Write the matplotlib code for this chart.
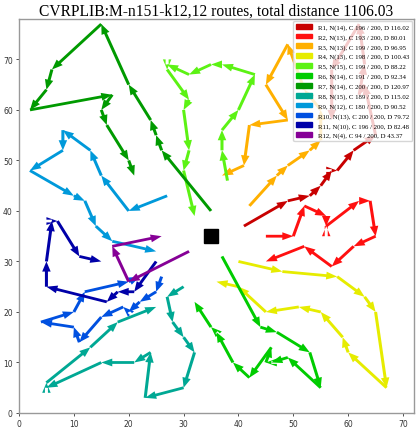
import matplotlib
matplotlib.use("Agg")
import matplotlib.pyplot as plt
from matplotlib.patches import Patch

# route customers, in visiting order (depot legs not drawn)
route1 = [(41, 37), (49, 42), (53, 43), (55, 45), (57, 48), (58, 48), (61, 52),
          (65, 55), (63, 65), (62, 63), (63, 69), (62, 77), (57, 68), (57, 58)]
route2 = [(45, 35), (50, 35), (52, 41), (56, 39), (56, 37), (56, 37), (62, 42),
          (64, 42), (65, 35), (61, 33), (57, 29), (52, 33), (45, 30)]
route3 = [(42, 41), (47, 47), (49, 49), (53, 52), (55, 54), (55, 60), (52, 64),
          (49, 73), (45, 65), (49, 58), (42, 57), (41, 49), (37, 47)]
route4 = [(40, 30), (48, 28), (58, 27), (63, 23), (65, 20), (67, 5), (60, 12),
          (59, 15), (55, 20), (51, 21), (45, 20), (40, 25), (36, 26)]
route5 = [(38, 46), (37, 52), (37, 56), (40, 60), (43, 67), (37, 69), (35, 69),
          (31, 67), (27, 69), (27, 68), (31, 62), (30, 60), (31, 52), (30, 48), (32, 39)]
route6 = [(37, 31), (44, 17), (47, 16), (53, 12), (55, 5), (49, 11), (46, 10),
          (45, 10), (46, 13), (42, 7), (39, 10), (36, 16), (35, 17), (32, 22)]
route7 = [(35, 40), (26, 52), (25, 55), (24, 58), (20, 65), (15, 77), (6, 68),
          (5, 64), (2, 60), (17, 63), (15, 60), (16, 57), (20, 50), (21, 47)]
route8 = [(30, 25), (27, 23), (28, 18), (30, 15), (32, 12), (30, 5), (23, 3),
          (24, 12), (21, 10), (15, 10), (5, 5), (5, 6), (13, 13), (18, 18), (25, 21)]
route9 = [(27, 43), (20, 40), (15, 47), (13, 52), (8, 56), (8, 52), (2, 48),
          (10, 43), (12, 42), (14, 37), (17, 34), (25, 32)]
route10 = [(26, 27), (25, 24), (22, 22), (20, 20), (19, 21), (15, 19), (11, 14),
           (10, 17), (4, 18), (10, 20), (12, 24), (20, 26), (22, 27)]
route11 = [(25, 30), (21, 24), (18, 24), (16, 22), (5, 25), (5, 30), (6, 38),
           (7, 38), (11, 31), (15, 30)]
route12 = [(31, 32), (20, 26), (17, 33), (26, 35)]

depot = (35, 35)
loads = [196, 193, 199, 198, 199, 191, 200, 189, 180, 200, 196, 94]
dists = [116.02, 80.01, 96.95, 100.43, 88.22, 92.34, 120.97, 115.02, 90.52, 79.72, 82.48, 43.37]
capacity = 200
colors = ['#C80000', '#FF1010', '#FFB000', '#E6EC00', '#5CF214', '#00CC00',
          '#009A00', '#00A894', '#0099DA', '#0050E0', '#0000A8', '#860096']

routes = [route1, route2, route3, route4, route5, route6,
          route7, route8, route9, route10, route11, route12]

fig = plt.figure(figsize=(4.2, 4.31), dpi=100)
ax = fig.add_axes([19 / 420, 17 / 431, 395 / 420, 394 / 431])

handles = []
for i, route in enumerate(routes):
    for (x0, y0), (x1, y1) in zip(route[:-1], route[1:]):
        ax.arrow(x0, y0, x1 - x0, y1 - y0, width=0.55, head_width=1.55,
                 head_length=2.0, length_includes_head=True,
                 color=colors[i], lw=0)
    label = 'R%d, N(%d), C %d / %d, D %.2f' % (i + 1, len(route), loads[i],
                                                capacity, dists[i])
    handles.append(Patch(color=colors[i], label=label))

ax.plot(depot[0], depot[1], 's', color='black', ms=10.5, zorder=5)

ax.set_xlim(0, 72)
ax.set_ylim(0, 78)
ax.set_xticks(range(0, 71, 10))
ax.set_yticks(range(0, 71, 10))
ax.tick_params(labelsize=5.5, length=2.5, width=0.6, colors='#333333', pad=2)
for s in ax.spines.values():
    s.set_color('#999999')
    s.set_linewidth(1.0)

ax.set_title('CVRPLIB:M-n151-k12,12 routes, total distance 1106.03',
             family='Liberation Serif', fontsize=11.2, pad=3)
ax.legend(handles=handles, loc='upper right',
          prop={'family': 'Liberation Serif', 'size': 4.9},
          borderaxespad=0.3, handlelength=2.4, labelspacing=0.55)

fig.savefig('out.png', dpi=100)
